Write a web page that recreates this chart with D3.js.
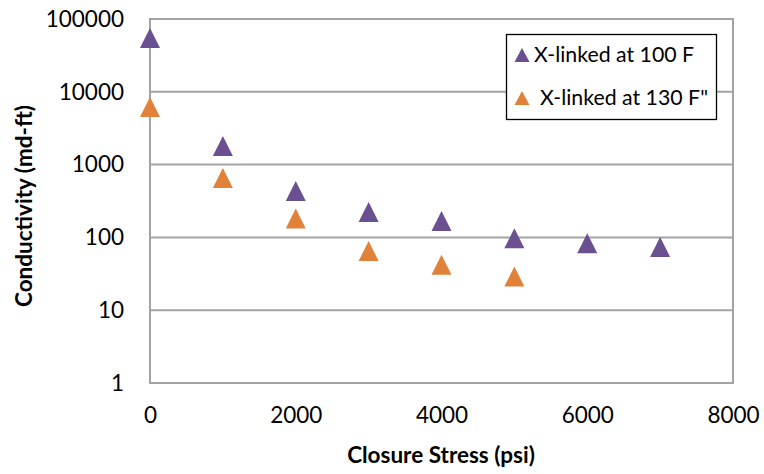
<!DOCTYPE html>
<html>
<head>
<meta charset="utf-8">
<script src="https://cdn.jsdelivr.net/npm/d3@7/dist/d3.min.js"></script>
<style>
  html, body { margin: 0; padding: 0; background: #fff; }
  svg { display: block; }
  text { font-family: Lato, "Open Sans", sans-serif; fill: #000; }
</style>
</head>
<body>
<svg id="chart" width="764" height="474"></svg>
<script>
// Closure stress (psi) at which conductivity was measured
const stress100 = [0, 1000, 2000, 3000, 4000, 5000, 6000, 7000];
const stress130 = [0, 1000, 2000, 3000, 4000, 5000];
// Conductivity (md-ft)
const cond100 = [55000, 1800, 434, 223, 168, 97, 83, 74];
const cond130 = [6200, 655, 182, 65, 42, 29];

const seriesNames = ["X-linked at 100 F", "X-linked at 130 F\""];
const seriesColors = ["#6a5090", "#e0823a"];

const xTicks = [0, 2000, 4000, 6000, 8000];
const yTicks = [1, 10, 100, 1000, 10000, 100000];

const svg = d3.select("#chart");
const plot = { left: 150, right: 733, top: 19, bottom: 383 };

const x = d3.scaleLinear().domain([0, 8000]).range([plot.left, plot.right]);
const y = d3.scaleLog().domain([1, 100000]).range([plot.bottom, plot.top]);

const gridColor = "#a3a3a3";

// horizontal gridlines
svg.append("g").selectAll("line").data(yTicks).join("line")
  .attr("x1", plot.left).attr("x2", plot.right)
  .attr("y1", d => y(d)).attr("y2", d => y(d))
  .attr("stroke", gridColor).attr("stroke-width", 2);

// frame
svg.append("rect")
  .attr("x", plot.left).attr("y", plot.top)
  .attr("width", plot.right - plot.left).attr("height", plot.bottom - plot.top)
  .attr("fill", "none").attr("stroke", gridColor).attr("stroke-width", 2);

// y axis labels
const yAxis = d3.axisLeft(y).tickValues(yTicks).tickFormat(d3.format("d")).tickSize(0).tickPadding(26);
const gy = svg.append("g").attr("transform", `translate(${plot.left},0)`).call(yAxis);
gy.select(".domain").remove();
gy.selectAll("text").style("font-size", "22.5px").style("font-family", "Lato, sans-serif").attr("fill", "#000");

// x axis labels
const xAxis = d3.axisBottom(x).tickValues(xTicks).tickFormat(d3.format("d")).tickSize(0).tickPadding(24);
const gx = svg.append("g").attr("transform", `translate(0,${plot.bottom})`).call(xAxis);
gx.select(".domain").remove();
gx.selectAll("text").style("font-size", "22.5px").style("font-family", "Lato, sans-serif").attr("fill", "#000");

// triangle marker path, centered on its bounding box
function tri(w, h) {
  return `M0,${-h / 2}L${w / 2},${h / 2}L${-w / 2},${h / 2}Z`;
}

const series = [
  { xs: stress100, ys: cond100, color: seriesColors[0] },
  { xs: stress130, ys: cond130, color: seriesColors[1] }
];

// draw 130 F first so the 100 F markers sit on top
[series[1], series[0]].forEach(s => {
  svg.append("g").selectAll("path")
    .data(s.xs.map((v, i) => [v, s.ys[i]]))
    .join("path")
    .attr("d", tri(20, 20))
    .attr("transform", d => `translate(${x(d[0])},${y(d[1])})`)
    .attr("fill", s.color);
});

// axis titles
svg.append("text")
  .attr("x", 441).attr("y", 463)
  .attr("text-anchor", "middle")
  .style("font-size", "22.5px").style("font-weight", "bold")
  .text("Closure Stress (psi)");

svg.append("text")
  .attr("transform", "translate(32,206) rotate(-90)")
  .attr("text-anchor", "middle")
  .style("font-size", "22.5px").style("font-weight", "bold")
  .text("Conductivity (md-ft)");

// legend
const lg = svg.append("g");
lg.append("rect")
  .attr("x", 506.5).attr("y", 34.5).attr("width", 210).attr("height", 85)
  .attr("fill", "#fff").attr("stroke", "#000").attr("stroke-width", 1.3);

const legendRows = [
  { cy: 55, tx: 534, ty: 62 },
  { cy: 98, tx: 540, ty: 105 }
];
legendRows.forEach((r, i) => {
  lg.append("path").attr("d", tri(15, 14))
    .attr("transform", `translate(522,${r.cy})`)
    .attr("fill", seriesColors[i]);
  lg.append("text").attr("x", r.tx).attr("y", r.ty)
    .style("font-size", "21.3px")
    .text(seriesNames[i]);
});
</script>
</body>
</html>
